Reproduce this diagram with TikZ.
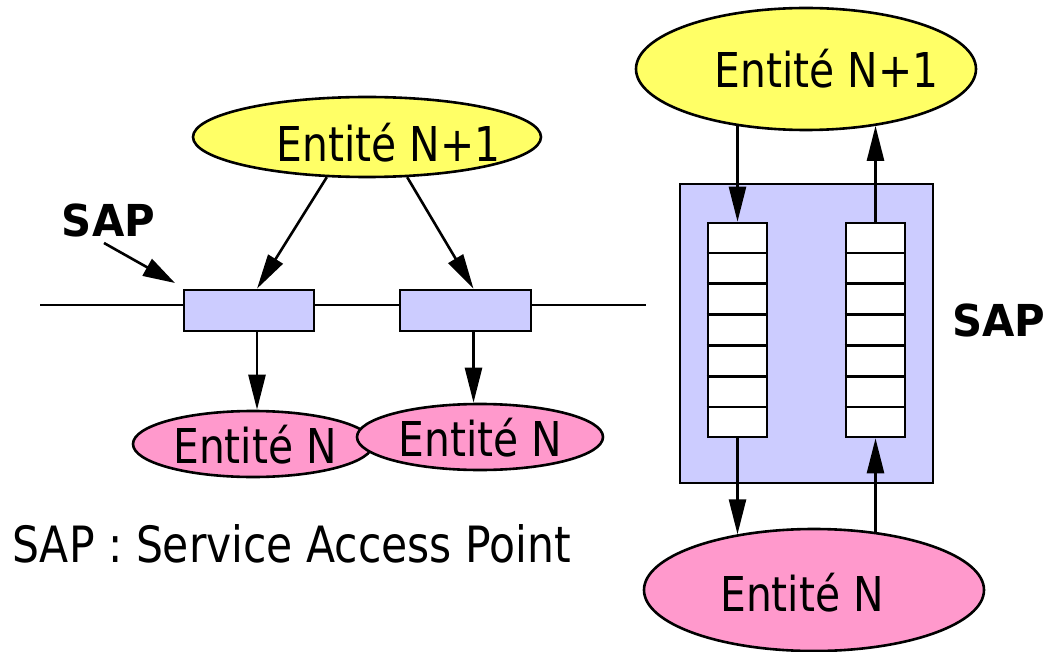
\documentclass[tikz,border=0pt]{standalone}
\usepackage{fontspec}
\setmainfont{DejaVu Sans}[FakeStretch=0.85, BoldFeatures={FakeStretch=0.95}]
\usetikzlibrary{arrows.meta,calc,shapes.geometric}

\definecolor{entup}{HTML}{FFFF66}
\definecolor{entdown}{HTML}{FF99CC}
\definecolor{sapfill}{HTML}{CCCCFF}

\tikzset{
  line/.style={line width=2.6pt, draw=black},
  arr/.style={line width=2.6pt, -{Triangle[length=35pt,width=17pt]}},
  entity/.style={ellipse, draw=black, line width=2.6pt, inner sep=0pt},
  upper/.style={entity, fill=entup},
  lower/.style={entity, fill=entdown},
  saprect/.style={rectangle, draw=black, line width=2.6pt, fill=sapfill, inner sep=0pt},
  queue/.style={rectangle, draw=black, line width=2.6pt, fill=white, inner sep=0pt,
                minimum width=59pt, minimum height=214pt},
  lbl/.style={anchor=base, inner sep=0pt, font=\fontsize{48}{58}\selectfont},
  boldlbl/.style={anchor=base, inner sep=0pt, font=\fontsize{44}{52}\selectfont\bfseries},
}

\begin{document}
\begin{tikzpicture}[x=1pt, y=-1pt]
\useasboundingbox (0,0) rectangle (1062,652);

% ---------- left part: service line with two access points ----------
\node[upper, minimum width=348pt, minimum height=80pt] (tl) at (367,137) {};
\node[lbl] (tltxt) at (388.5,162) {Entité N+1};

\draw[line] (40,305) coordinate (lineA) -- (646,305) coordinate (lineB);

\node[saprect, minimum width=130pt, minimum height=41pt] (r1) at (249,310.5) {};
\node[saprect, minimum width=131pt, minimum height=41pt] (r2) at (465.5,310.5) {};

\coordinate (p1top) at ([xshift=8pt]r1.north);
\coordinate (p2top) at ([xshift=8pt]r2.north);
\coordinate (p1bot) at ([xshift=8pt]r1.south);
\coordinate (p2bot) at ([xshift=8pt]r2.south);

\draw[arr] (tl.225) -- (p1top);
\draw[arr] (tl.315) -- (p2top);

\node[boldlbl] (sapl) at (108.5,237) {SAP};
\coordinate (sapfrom) at (104,243);
\coordinate (sapto) at (175,283);
\draw[line width=2.6pt, -{Triangle[length=32pt,width=19pt]}] (sapfrom) -- (sapto);

\node[lower, minimum width=240pt, minimum height=66pt] (bl1) at (253,444) {};
\node[lbl] (bl1txt) at (255,463) {Entité N};
\node[lower, minimum width=246pt, minimum height=66pt] (bl2) at (480,437) {};
\node[lbl] (bl2txt) at (480.5,456) {Entité N};

\draw[arr] (p1bot) -- (p1bot |- bl1.north);
\draw[arr] (p2bot) -- (p2bot |- bl2.north);

\node[lbl, anchor=base west, font=\fontsize{50}{60}\selectfont] (legend) at (12,562) {SAP : Service Access Point};

% ---------- right part: access point with two queues ----------
\node[saprect, minimum width=253pt, minimum height=299pt] (box) at (806.5,333.5) {};
\node[queue] (q1) at (737.5,330) {};
\node[queue] (q2) at (875.5,330) {};
\foreach \q in {q1,q2}{
  \foreach \k in {1,...,6}{
    \draw[line width=2.2pt] ($(\q.north west)!\k/7!(\q.south west)$) -- ($(\q.north east)!\k/7!(\q.south east)$);
  }
}

\node[upper, minimum width=340pt, minimum height=122pt] (tr) at (806,69) {};
\node[lbl] (trtxt) at (826.5,88) {Entité N+1};

\node[lower, minimum width=340pt, minimum height=122pt] (br) at (814,590) {};
\node[lbl] (brtxt) at (802,611) {Entité N};

\draw[arr] (q1.north |- tr.219.2) -- (q1.north);
\draw[arr] (q2.north) -- (q2.north |- tr.321.3);
\draw[arr] (q1.south) -- (q1.south |- br.144.3);
\draw[arr] (q2.south |- br.42.8) -- (q2.south);

\node[boldlbl] (sapr) at (999,336) {SAP};
\end{tikzpicture}
\end{document}
